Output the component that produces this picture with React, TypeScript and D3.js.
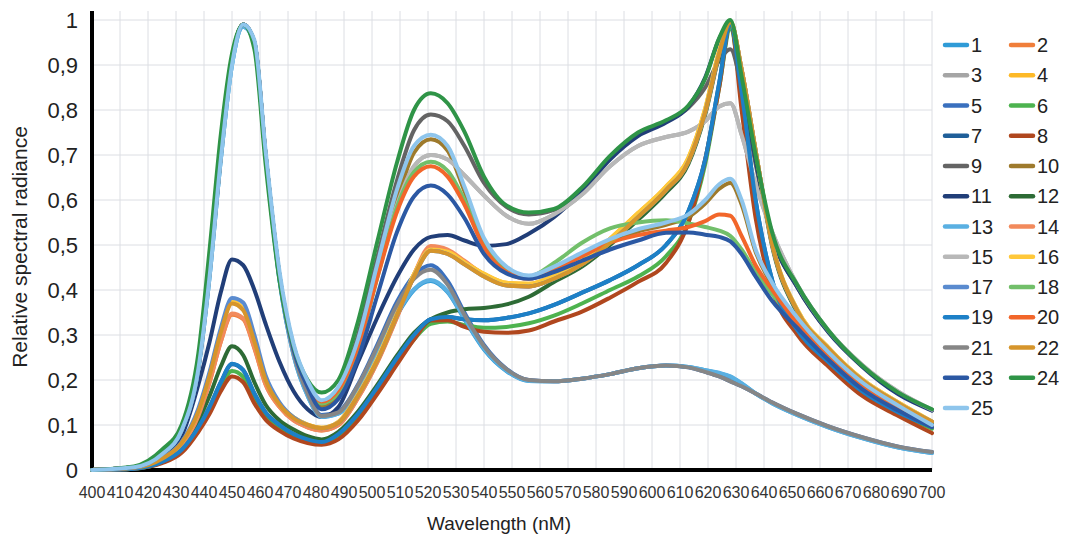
import React from 'react';
import * as d3 from 'd3';

// Wavelength sample points (nm)
const W = [400, 415, 425, 432, 438, 442, 446, 450, 454, 458, 462, 467, 472, 477, 482, 488, 495, 502, 509, 515, 521, 527, 533, 540, 548, 556, 565, 575, 585, 595, 605, 613, 619, 624, 628, 632, 637, 643, 652, 663, 675, 688, 700];

const S1 = [0, 0.006, 0.035, 0.088, 0.225, 0.43, 0.69, 0.9, 0.985, 0.95, 0.7, 0.42, 0.255, 0.165, 0.118, 0.125, 0.18, 0.26, 0.345, 0.4, 0.42, 0.395, 0.335, 0.268, 0.22, 0.198, 0.197, 0.203, 0.213, 0.226, 0.232, 0.229, 0.222, 0.215, 0.207, 0.192, 0.17, 0.148, 0.122, 0.095, 0.071, 0.05, 0.038];
const S2 = [0, 0.004, 0.022, 0.055, 0.12, 0.195, 0.285, 0.345, 0.335, 0.27, 0.19, 0.14, 0.11, 0.095, 0.088, 0.1, 0.16, 0.24, 0.34, 0.43, 0.494, 0.487, 0.462, 0.433, 0.412, 0.408, 0.425, 0.457, 0.505, 0.562, 0.622, 0.685, 0.795, 0.925, 0.995, 0.89, 0.71, 0.5, 0.352, 0.27, 0.2, 0.148, 0.107];
const S3 = [0, 0.006, 0.036, 0.09, 0.23, 0.44, 0.7, 0.91, 0.99, 0.95, 0.7, 0.43, 0.272, 0.19, 0.15, 0.175, 0.28, 0.44, 0.59, 0.675, 0.7, 0.69, 0.655, 0.61, 0.565, 0.547, 0.568, 0.612, 0.675, 0.72, 0.74, 0.752, 0.775, 0.808, 0.815, 0.745, 0.635, 0.528, 0.41, 0.31, 0.234, 0.174, 0.134];
const S4 = [0, 0.005, 0.025, 0.06, 0.13, 0.212, 0.308, 0.374, 0.358, 0.288, 0.202, 0.147, 0.117, 0.101, 0.094, 0.107, 0.168, 0.25, 0.35, 0.435, 0.49, 0.485, 0.462, 0.436, 0.416, 0.414, 0.432, 0.466, 0.514, 0.571, 0.63, 0.694, 0.803, 0.932, 0.997, 0.89, 0.71, 0.502, 0.355, 0.272, 0.202, 0.15, 0.108];
const S5 = [0, 0.006, 0.036, 0.09, 0.23, 0.44, 0.7, 0.91, 0.99, 0.95, 0.7, 0.425, 0.26, 0.17, 0.122, 0.13, 0.19, 0.28, 0.375, 0.432, 0.455, 0.42, 0.35, 0.278, 0.225, 0.2, 0.197, 0.203, 0.213, 0.226, 0.232, 0.228, 0.218, 0.208, 0.197, 0.186, 0.17, 0.15, 0.124, 0.097, 0.073, 0.052, 0.04];
const S6 = [0, 0.003, 0.017, 0.042, 0.09, 0.133, 0.185, 0.22, 0.207, 0.16, 0.12, 0.093, 0.074, 0.063, 0.058, 0.072, 0.115, 0.175, 0.24, 0.29, 0.325, 0.33, 0.322, 0.316, 0.318, 0.326, 0.343, 0.37, 0.4, 0.43, 0.475, 0.55, 0.68, 0.85, 0.98, 0.83, 0.59, 0.415, 0.305, 0.235, 0.172, 0.126, 0.092];
const S7 = [0, 0.003, 0.018, 0.045, 0.095, 0.14, 0.195, 0.235, 0.222, 0.17, 0.128, 0.1, 0.08, 0.068, 0.062, 0.08, 0.125, 0.185, 0.25, 0.3, 0.335, 0.34, 0.335, 0.333, 0.338, 0.348, 0.367, 0.394, 0.422, 0.455, 0.5, 0.575, 0.69, 0.86, 0.99, 0.84, 0.6, 0.42, 0.31, 0.24, 0.175, 0.128, 0.096];
const S8 = [0, 0.003, 0.015, 0.038, 0.085, 0.125, 0.175, 0.208, 0.195, 0.148, 0.112, 0.087, 0.07, 0.06, 0.056, 0.068, 0.11, 0.17, 0.235, 0.29, 0.332, 0.333, 0.318, 0.307, 0.305, 0.31, 0.33, 0.352, 0.383, 0.418, 0.46, 0.55, 0.69, 0.85, 0.99, 0.8, 0.56, 0.4, 0.3, 0.23, 0.165, 0.12, 0.082];
const S9 = [0, 0.006, 0.036, 0.09, 0.23, 0.44, 0.7, 0.91, 0.99, 0.95, 0.7, 0.43, 0.275, 0.19, 0.15, 0.18, 0.3, 0.475, 0.645, 0.755, 0.79, 0.775, 0.72, 0.638, 0.585, 0.568, 0.578, 0.625, 0.695, 0.748, 0.775, 0.805, 0.85, 0.91, 0.935, 0.85, 0.68, 0.52, 0.405, 0.307, 0.232, 0.172, 0.133];
const S10 = [0, 0.006, 0.036, 0.09, 0.23, 0.44, 0.7, 0.91, 0.99, 0.95, 0.7, 0.43, 0.27, 0.19, 0.142, 0.168, 0.27, 0.435, 0.6, 0.705, 0.735, 0.71, 0.62, 0.51, 0.45, 0.43, 0.448, 0.478, 0.508, 0.53, 0.545, 0.562, 0.592, 0.625, 0.638, 0.59, 0.485, 0.41, 0.335, 0.26, 0.194, 0.142, 0.1];
const S11 = [0, 0.005, 0.03, 0.075, 0.19, 0.285, 0.395, 0.468, 0.455, 0.4, 0.325, 0.24, 0.175, 0.135, 0.118, 0.14, 0.24, 0.34, 0.43, 0.49, 0.518, 0.522, 0.51, 0.498, 0.502, 0.525, 0.562, 0.62, 0.69, 0.742, 0.772, 0.808, 0.872, 0.958, 0.995, 0.87, 0.69, 0.52, 0.405, 0.306, 0.23, 0.168, 0.132];
const S12 = [0, 0.004, 0.02, 0.05, 0.11, 0.165, 0.23, 0.275, 0.255, 0.195, 0.145, 0.11, 0.09, 0.075, 0.068, 0.085, 0.13, 0.19, 0.255, 0.305, 0.335, 0.35, 0.357, 0.36, 0.368, 0.385, 0.418, 0.452, 0.5, 0.556, 0.616, 0.68, 0.79, 0.92, 0.99, 0.885, 0.705, 0.495, 0.348, 0.267, 0.198, 0.146, 0.105];
const S13 = [0, 0.006, 0.035, 0.088, 0.225, 0.43, 0.69, 0.9, 0.985, 0.95, 0.7, 0.42, 0.255, 0.165, 0.118, 0.126, 0.182, 0.262, 0.348, 0.402, 0.422, 0.397, 0.337, 0.27, 0.221, 0.198, 0.197, 0.203, 0.213, 0.226, 0.232, 0.229, 0.222, 0.216, 0.208, 0.193, 0.17, 0.148, 0.122, 0.095, 0.071, 0.05, 0.038];
const S14 = [0, 0.004, 0.022, 0.055, 0.12, 0.195, 0.285, 0.348, 0.337, 0.272, 0.19, 0.14, 0.11, 0.095, 0.088, 0.1, 0.16, 0.242, 0.342, 0.435, 0.498, 0.49, 0.465, 0.434, 0.412, 0.408, 0.425, 0.457, 0.505, 0.562, 0.622, 0.685, 0.795, 0.925, 0.995, 0.89, 0.71, 0.5, 0.352, 0.27, 0.2, 0.148, 0.107];
const S15 = [0, 0.006, 0.036, 0.09, 0.23, 0.44, 0.7, 0.91, 0.99, 0.95, 0.7, 0.43, 0.272, 0.19, 0.15, 0.175, 0.28, 0.44, 0.59, 0.675, 0.7, 0.69, 0.655, 0.61, 0.565, 0.547, 0.568, 0.612, 0.675, 0.72, 0.74, 0.752, 0.775, 0.808, 0.815, 0.745, 0.635, 0.528, 0.41, 0.31, 0.234, 0.174, 0.134];
const S16 = [0, 0.005, 0.025, 0.06, 0.13, 0.212, 0.308, 0.374, 0.358, 0.288, 0.202, 0.147, 0.117, 0.101, 0.094, 0.107, 0.168, 0.25, 0.35, 0.435, 0.49, 0.485, 0.462, 0.436, 0.416, 0.414, 0.432, 0.466, 0.514, 0.571, 0.63, 0.694, 0.803, 0.932, 0.997, 0.89, 0.71, 0.502, 0.355, 0.272, 0.202, 0.15, 0.108];
const S17 = [0, 0.005, 0.026, 0.062, 0.137, 0.218, 0.315, 0.382, 0.372, 0.3, 0.21, 0.15, 0.117, 0.1, 0.093, 0.105, 0.165, 0.245, 0.345, 0.43, 0.487, 0.48, 0.457, 0.43, 0.41, 0.408, 0.425, 0.457, 0.505, 0.562, 0.622, 0.685, 0.795, 0.925, 0.995, 0.89, 0.71, 0.5, 0.352, 0.27, 0.2, 0.148, 0.107];
const S18 = [0, 0.006, 0.036, 0.09, 0.23, 0.44, 0.7, 0.91, 0.99, 0.95, 0.7, 0.43, 0.27, 0.19, 0.148, 0.172, 0.272, 0.43, 0.585, 0.662, 0.685, 0.665, 0.6, 0.5, 0.447, 0.43, 0.46, 0.505, 0.537, 0.55, 0.555, 0.548, 0.54, 0.532, 0.52, 0.49, 0.44, 0.39, 0.325, 0.252, 0.185, 0.136, 0.096];
const S19 = [0, 0.003, 0.018, 0.045, 0.095, 0.14, 0.195, 0.236, 0.222, 0.17, 0.128, 0.1, 0.08, 0.068, 0.062, 0.08, 0.125, 0.185, 0.25, 0.3, 0.335, 0.34, 0.335, 0.333, 0.338, 0.348, 0.367, 0.394, 0.422, 0.455, 0.5, 0.575, 0.69, 0.86, 0.99, 0.84, 0.6, 0.42, 0.31, 0.24, 0.175, 0.128, 0.096];
const S20 = [0, 0.006, 0.036, 0.09, 0.23, 0.44, 0.7, 0.91, 0.99, 0.95, 0.7, 0.43, 0.272, 0.192, 0.152, 0.178, 0.275, 0.43, 0.575, 0.652, 0.675, 0.652, 0.59, 0.495, 0.44, 0.425, 0.445, 0.475, 0.505, 0.522, 0.532, 0.54, 0.553, 0.568, 0.565, 0.52, 0.455, 0.4, 0.325, 0.25, 0.185, 0.135, 0.097];
const S21 = [0, 0.006, 0.036, 0.09, 0.23, 0.44, 0.7, 0.91, 0.99, 0.95, 0.7, 0.425, 0.26, 0.17, 0.12, 0.128, 0.188, 0.275, 0.368, 0.425, 0.445, 0.412, 0.345, 0.275, 0.224, 0.2, 0.197, 0.203, 0.213, 0.226, 0.232, 0.228, 0.218, 0.208, 0.197, 0.186, 0.17, 0.15, 0.124, 0.097, 0.073, 0.052, 0.04];
const S22 = [0, 0.005, 0.025, 0.06, 0.13, 0.21, 0.305, 0.37, 0.355, 0.285, 0.2, 0.145, 0.115, 0.1, 0.093, 0.105, 0.165, 0.245, 0.345, 0.43, 0.487, 0.48, 0.457, 0.43, 0.41, 0.408, 0.425, 0.457, 0.505, 0.562, 0.622, 0.685, 0.795, 0.925, 0.995, 0.89, 0.71, 0.5, 0.352, 0.27, 0.2, 0.148, 0.107];
const S23 = [0, 0.006, 0.036, 0.09, 0.23, 0.44, 0.7, 0.91, 0.99, 0.95, 0.7, 0.43, 0.268, 0.185, 0.135, 0.158, 0.248, 0.39, 0.53, 0.608, 0.632, 0.612, 0.56, 0.48, 0.437, 0.425, 0.44, 0.465, 0.49, 0.51, 0.527, 0.528, 0.523, 0.518, 0.508, 0.48, 0.43, 0.375, 0.315, 0.245, 0.18, 0.132, 0.095];
const S24 = [0, 0.008, 0.045, 0.1, 0.26, 0.49, 0.745, 0.925, 0.99, 0.935, 0.68, 0.42, 0.275, 0.2, 0.172, 0.2, 0.33, 0.51, 0.685, 0.8, 0.837, 0.815, 0.752, 0.652, 0.588, 0.572, 0.58, 0.628, 0.698, 0.75, 0.777, 0.81, 0.87, 0.96, 1.0, 0.875, 0.7, 0.526, 0.41, 0.31, 0.232, 0.172, 0.135];
const S25 = [0, 0.006, 0.035, 0.088, 0.225, 0.43, 0.69, 0.9, 0.99, 0.955, 0.71, 0.44, 0.28, 0.198, 0.155, 0.185, 0.29, 0.46, 0.625, 0.72, 0.745, 0.72, 0.63, 0.515, 0.452, 0.432, 0.452, 0.483, 0.513, 0.535, 0.55, 0.568, 0.6, 0.635, 0.647, 0.6, 0.49, 0.415, 0.338, 0.262, 0.195, 0.143, 0.1];

const SERIES_VALUES = [S1, S2, S3, S4, S5, S6, S7, S8, S9, S10, S11, S12, S13, S14, S15, S16, S17, S18, S19, S20, S21, S22, S23, S24, S25];
const SERIES_NAMES = ['1', '2', '3', '4', '5', '6', '7', '8', '9', '10', '11', '12', '13', '14', '15', '16', '17', '18', '19', '20', '21', '22', '23', '24', '25'];
const COLORS = ['#2F9BD7', '#F07E3A', '#A5A5A5', '#FDB927', '#3A70BE', '#4DB34F', '#1F5F99', '#B0471E', '#646464', '#9E7A2C', '#213E78', '#2D6B35', '#5AB0E2', '#F28A5C', '#B8B8B8', '#FFC83A', '#5A8BCF', '#72BF6A', '#1D80C7', '#F2662A', '#868686', '#D6952B', '#2B58A3', '#2F9447', '#8EC5EC'];

const X_TICKS = [400, 410, 420, 430, 440, 450, 460, 470, 480, 490, 500, 510, 520, 530, 540, 550, 560, 570, 580, 590, 600, 610, 620, 630, 640, 650, 660, 670, 680, 690, 700];
const Y_TICKS = [0, 0.1, 0.2, 0.3, 0.4, 0.5, 0.6, 0.7, 0.8, 0.9, 1];
const Y_TICK_LABELS = ['0', '0,1', '0,2', '0,3', '0,4', '0,5', '0,6', '0,7', '0,8', '0,9', '1'];

const FONT = '"Liberation Sans", Arial, Helvetica, sans-serif';

export default function App() {
  const width = 1068;
  const height = 534;
  const x = d3.scaleLinear().domain([400, 700]).range([92, 932]);
  const y = d3.scaleLinear().domain([0, 1]).range([470, 20]);
  const line = d3
    .line<number>()
    .x((_, i) => x(W[i]))
    .y((d) => y(d))
    .curve(d3.curveMonotoneX);
  const top = y(1.02);

  return (
    <svg
      width={width}
      height={height}
      style={{ position: 'absolute', left: 0, top: 0, background: '#fff' }}
      fontFamily={FONT}
    >
      {/* grid */}
      <g stroke="#DCDEE3" strokeWidth={1}>
        {X_TICKS.map((t) => (
          <line key={'gx' + t} x1={x(t)} x2={x(t)} y1={top} y2={y(0)} />
        ))}
        {Y_TICKS.map((t) => (
          <line key={'gy' + t} x1={x(400)} x2={x(700)} y1={y(t)} y2={y(t)} />
        ))}
      </g>
      {/* axes */}
      <line x1={x(400)} x2={x(400)} y1={top} y2={y(0) + 2} stroke="#000" strokeWidth={4} />
      <line x1={x(400) - 2} x2={x(700)} y1={y(0)} y2={y(0)} stroke="#000" strokeWidth={4} />
      {/* series */}
      <g fill="none" strokeWidth={4} strokeLinejoin="round" strokeLinecap="round">
        {SERIES_VALUES.map((vals, i) => (
          <path key={'s' + i} d={line(vals) || ''} stroke={COLORS[i]} />
        ))}
      </g>
      {/* x tick labels */}
      <g fontSize={16} fill="#333" textAnchor="middle">
        {X_TICKS.map((t) => (
          <text key={'xt' + t} x={x(t)} y={498}>
            {t}
          </text>
        ))}
      </g>
      {/* y tick labels */}
      <g fontSize={22} fill="#222" textAnchor="end">
        {Y_TICKS.map((t, i) => (
          <text key={'yt' + t} x={78} y={y(t)} dominantBaseline="central">
            {Y_TICK_LABELS[i]}
          </text>
        ))}
      </g>
      {/* axis titles */}
      <text x={499} y={530} fontSize={19} fill="#222" textAnchor="middle">
        Wavelength (nM)
      </text>
      <text
        transform="translate(27,247) rotate(-90)"
        fontSize={21}
        fill="#222"
        textAnchor="middle"
      >
        Relative spectral radiance
      </text>
      {/* legend */}
      <g>
        {SERIES_NAMES.map((n, i) => {
          const col = i % 2;
          const row = Math.floor(i / 2);
          const lx = 945 + col * 66;
          const ly = 45 + row * 30.25;
          return (
            <g key={'lg' + i}>
              <line x1={lx} x2={lx + 22} y1={ly} y2={ly} stroke={COLORS[i]} strokeWidth={4.5} strokeLinecap="round" />
              <text x={lx + 26} y={ly} fontSize={20} fill="#222" dominantBaseline="central">
                {n}
              </text>
            </g>
          );
        })}
      </g>
    </svg>
  );
}
